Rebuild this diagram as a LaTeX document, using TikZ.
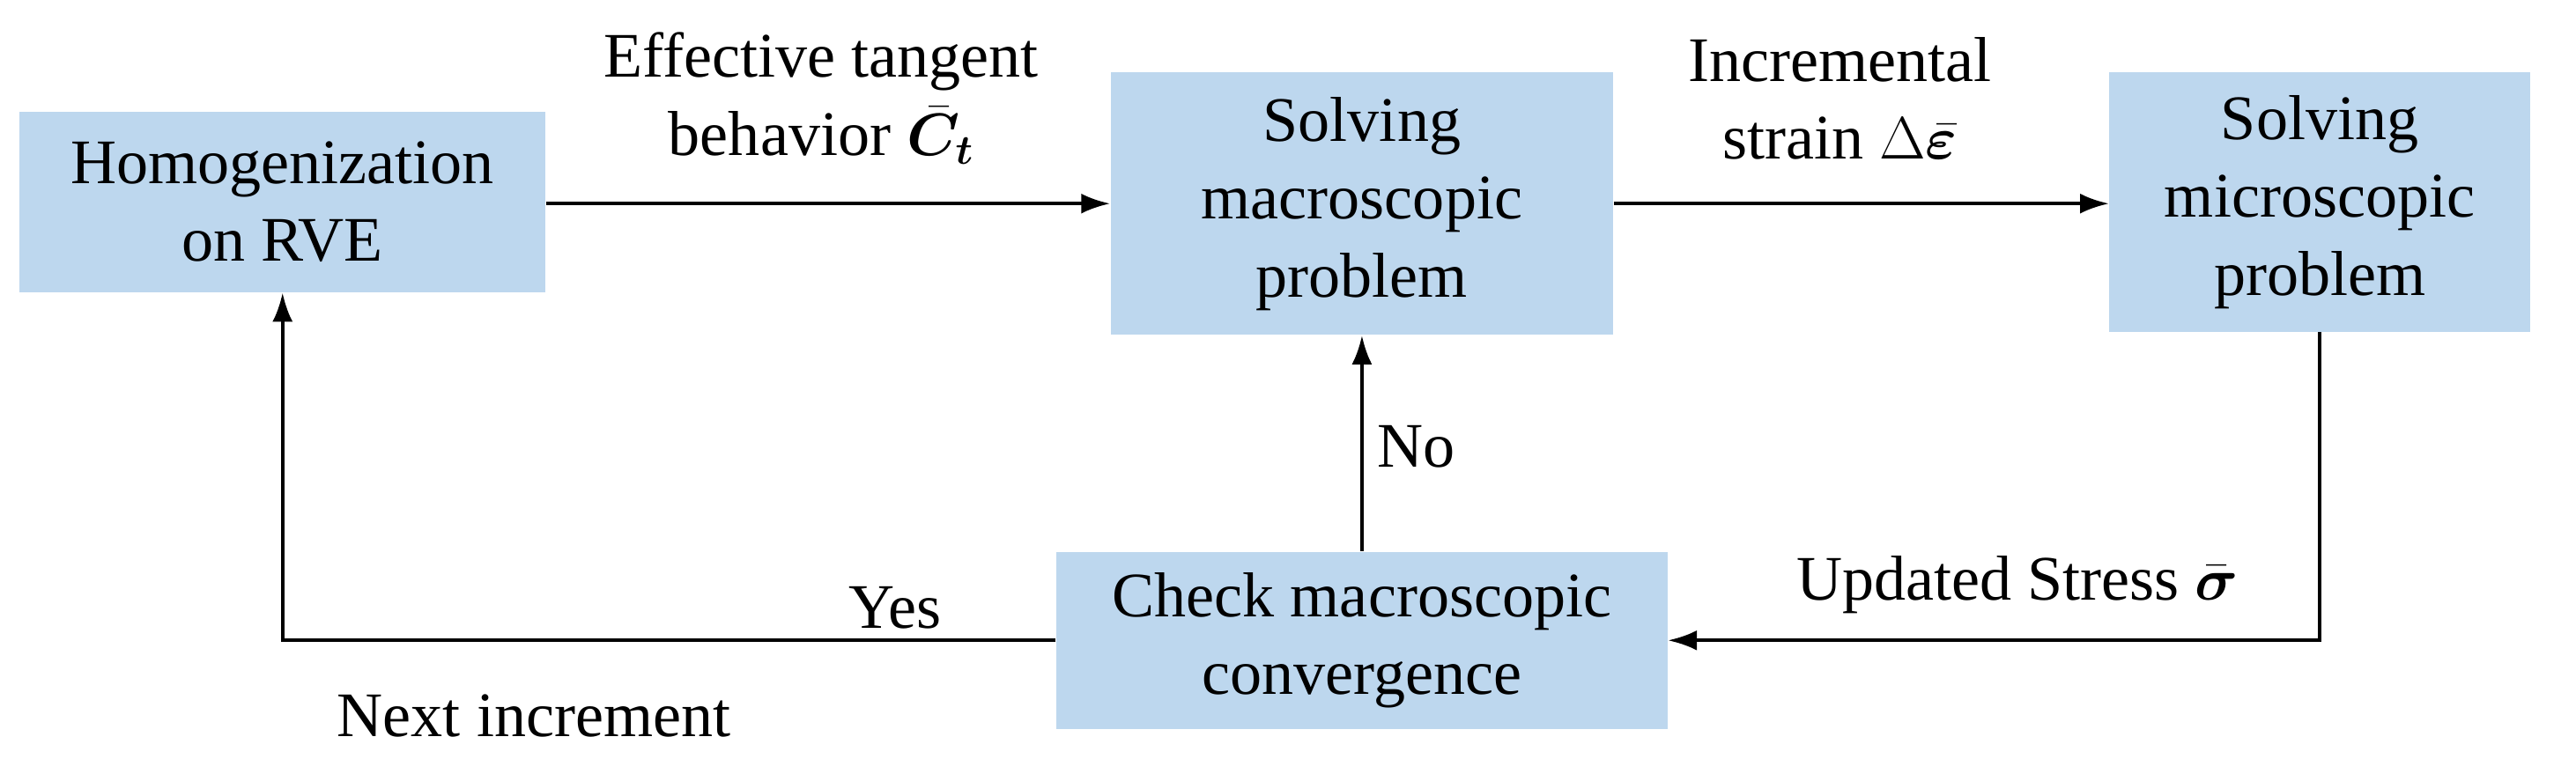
\documentclass[tikz,border=0pt]{standalone}
\usepackage{fontspec}
\setmainfont{Liberation Serif}
\usepackage{bm}
\usetikzlibrary{arrows.meta}
\definecolor{boxblue}{RGB}{189,215,238}
\tikzset{
  blk/.style={fill=boxblue, align=center, inner sep=0pt},
  flow/.style={-{Latex[length=10pt,width=7pt]}, line width=1.2pt},
  lbl/.style={align=center, inner sep=0pt}
}
\begin{document}
\begin{tikzpicture}[x=0.02cm, y=-0.02cm, font=\fontsize{22}{27}\selectfont]
\useasboundingbox (0,0) rectangle (1568,462);
% boxes
\node[blk, minimum width=6.4cm, minimum height=2.2cm] (homog) at (172,123) {Homogenization\\on RVE};
\node[blk, minimum width=6.12cm, minimum height=3.2cm] (macro) at (829,124) {Solving\\macroscopic\\problem};
\node[blk, minimum width=5.12cm, minimum height=3.16cm] (micro) at (1412,123) {Solving\\microscopic\\problem};
\node[blk, minimum width=7.44cm, minimum height=2.16cm] (check) at (829,390) {Check macroscopic\\convergence};
% corners
\coordinate (c1) at (micro.south |- check.east);
\coordinate (c2) at (homog.south |- check.west);
% connectors
\draw[flow] (homog.east |- macro.west) -- (macro.west);
\draw[flow] (macro.east) -- (macro.east -| micro.west);
\draw[flow] (micro.south) -- (c1) -- (check.east);
\draw[flow] (check.north) -- (macro.south);
\draw[flow] (check.west) -- (c2) -- (homog.south);
% labels
\node[lbl] (l1) at (500,60) {Effective tangent\\behavior $\bar{\bm{C}}_{\bm{t}}$};
\node[lbl] (l2) at (1120,60) {Incremental\\strain $\Delta\bar{\bm{\varepsilon}}$};
\node[lbl] (l3) at (1228,356) {Updated Stress $\bar{\bm{\sigma}}$};
\node[lbl] (l4) at (862,272) {No};
\node[lbl] (l5) at (545,370) {Yes};
\node[lbl] (l6) at (325,436) {Next increment};
\end{tikzpicture}
\end{document}
